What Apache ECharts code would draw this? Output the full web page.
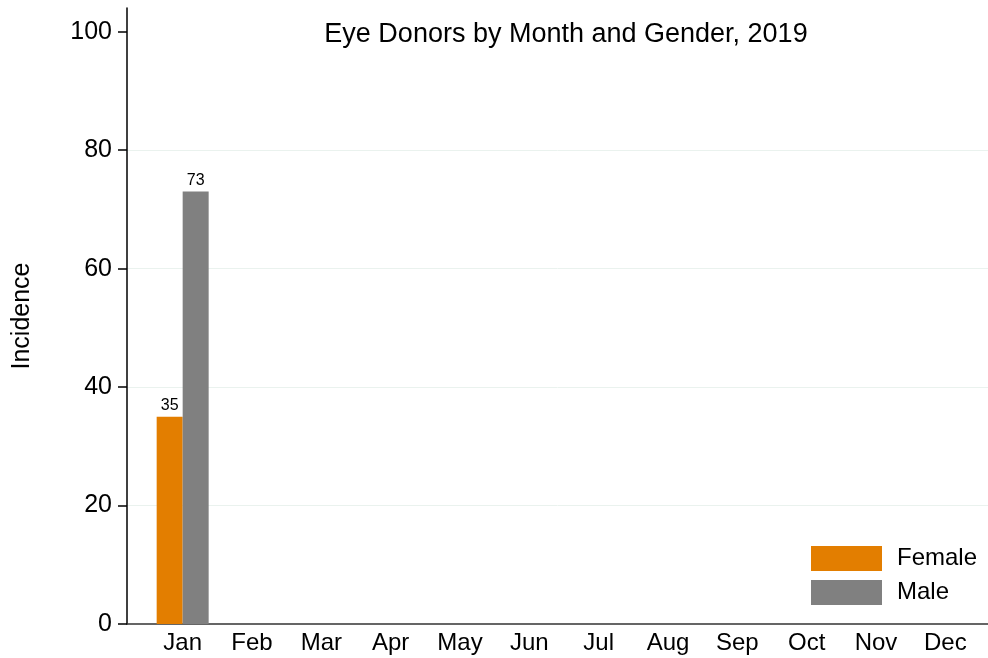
<!DOCTYPE html>
<html>
<head>
<meta charset="utf-8">
<script src="https://cdn.jsdelivr.net/npm/echarts@6/dist/echarts.min.js"></script>
<style>
  html, body { margin: 0; padding: 0; background: #fff; }
  #chart { width: 988px; height: 658px; }
</style>
</head>
<body>
<div id="chart"></div>
<script>
// values (only January is reported)
const months = ['Jan', 'Feb', 'Mar', 'Apr', 'May', 'Jun', 'Jul', 'Aug', 'Sep', 'Oct', 'Nov', 'Dec'];
const female = [35, null, null, null, null, null, null, null, null, null, null, null];
const male = [73, null, null, null, null, null, null, null, null, null, null, null];
const yTicks = [0, 20, 40, 60, 80, 100];
const gridValues = [20, 40, 60, 80];

const chart = echarts.init(document.getElementById('chart'));
const font = 'Liberation Sans, Arial, sans-serif';

const barLabel = {
    show: true,
    position: 'top',
    distance: 3,
    fontSize: 16,
    fontFamily: font,
    color: '#000',
    formatter: p => (p.value == null ? '' : p.value)
};

chart.setOption({
    title: {
        text: 'Eye Donors by Month and Gender, 2019',
        left: 561,
        textAlign: 'center',
        top: 16,
        textStyle: { fontSize: 27, fontWeight: 'normal', color: '#000', fontFamily: font }
    },
    legend: {
        orient: 'vertical',
        left: 811,
        top: 546,
        itemWidth: 71,
        itemHeight: 25,
        itemGap: 9,
        padding: 0,
        icon: 'rect',
        textStyle: { fontSize: 24, color: '#000', fontFamily: font, padding: [0, 0, 0, 10] },
        data: ['Female', 'Male']
    },
    grid: [
        // bars live in this grid (category band starts a little right of the y axis)
        { left: 148, right: 8, top: 8, bottom: 34 },
        // frame: y axis, its labels and the full-width x axis line
        { left: 127, right: 0, top: 8, bottom: 34 }
    ],
    xAxis: [
        {
            gridIndex: 0,
            type: 'category',
            data: months,
            axisLine: { show: false },
            axisTick: { show: false },
            axisLabel: { fontSize: 24, color: '#000', fontFamily: font, margin: 7, interval: 0 }
        },
        {
            gridIndex: 1,
            type: 'value',
            min: 0,
            max: 1,
            axisLine: { show: true, lineStyle: { color: '#333', width: 1.5 } },
            axisTick: { show: false },
            axisLabel: { show: false },
            splitLine: { show: false }
        }
    ],
    yAxis: [
        {
            gridIndex: 0,
            type: 'value',
            min: 0,
            max: 104,
            show: false
        },
        {
            gridIndex: 1,
            type: 'value',
            min: 0,
            max: 104,
            interval: 20,
            name: 'Incidence',
            nameLocation: 'middle',
            nameGap: 92,
            nameTextStyle: { fontSize: 25, color: '#000', fontFamily: font },
            axisLine: { show: true, lineStyle: { color: '#000', width: 1.5 } },
            axisTick: { show: true, length: 9, customValues: yTicks, lineStyle: { color: '#000', width: 1.5 } },
            axisLabel: { fontSize: 25, color: '#000', fontFamily: font, margin: 15, customValues: yTicks },
            splitLine: { show: false }
        }
    ],
    series: [
        {
            // faint horizontal grid lines across the whole plot area, kept behind the bars
            type: 'line',
            xAxisIndex: 1,
            yAxisIndex: 1,
            data: [],
            silent: true,
            z: 0,
            markLine: {
                silent: true,
                z: 0,
                symbol: 'none',
                label: { show: false },
                lineStyle: { color: '#EAF2EE', width: 1, type: 'solid' },
                data: gridValues.map(v => ({ yAxis: v }))
            }
        },
        {
            name: 'Female',
            type: 'bar',
            xAxisIndex: 0,
            yAxisIndex: 0,
            data: female,
            barWidth: 26,
            barGap: 0,
            z: 10,
            itemStyle: { color: '#E37E00' },
            label: barLabel
        },
        {
            name: 'Male',
            type: 'bar',
            xAxisIndex: 0,
            yAxisIndex: 0,
            data: male,
            barWidth: 26,
            barGap: 0,
            z: 10,
            itemStyle: { color: '#808080' },
            label: barLabel
        }
    ]
});
</script>
</body>
</html>
